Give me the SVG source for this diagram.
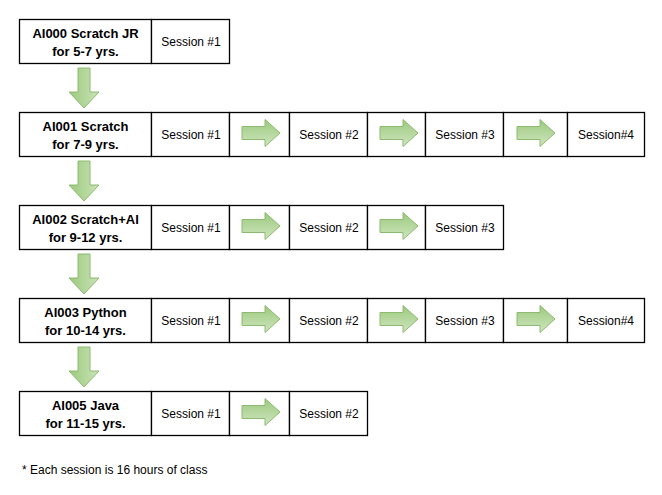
<svg xmlns="http://www.w3.org/2000/svg" width="662" height="495" viewBox="0 0 662 495">
<defs>
<linearGradient id="gv" x1="0" y1="0" x2="0" y2="1">
<stop offset="0" stop-color="#9cc97e"/>
<stop offset="1" stop-color="#cfe6bf"/>
</linearGradient>
<linearGradient id="gh" x1="0" y1="0" x2="1" y2="0">
<stop offset="0" stop-color="#9cc97e"/>
<stop offset="1" stop-color="#c9e3b7"/>
</linearGradient>
<path id="ra" d="M0,-6.5 H23 V-13.5 L38,0 L23,13.5 V6.5 H0 Z"/>
<path id="da" d="M-6,0 H6 V24 H15 L0,40 L-15,24 H-6 Z"/>
</defs>
<style>
.c{fill:#fff;stroke:#000;stroke-width:1.3}
.t{font-family:"Liberation Sans",Arial,sans-serif;font-size:12px;fill:#000;text-anchor:middle}
.b{font-family:"Liberation Sans",Arial,sans-serif;font-size:13px;font-weight:bold;fill:#000;text-anchor:middle}
.ar{fill:url(#gv);stroke:#8cba6f;stroke-width:1}
.dr{fill:url(#gh);stroke:#8cba6f;stroke-width:1}
</style>
<rect width="662" height="495" fill="#fff"/>

<g id="row1">
<rect class="c" x="19.5" y="19.5" width="132" height="44"/>
<rect class="c" x="151.5" y="19.5" width="78" height="44"/>
<text class="b" x="85.5" y="38">AI000 Scratch JR</text>
<text class="b" x="85.5" y="56">for 5-7 yrs.</text>
<text class="t" x="191" y="46">Session #1</text>
</g>

<g id="row2">
<rect class="c" x="19.5" y="112.5" width="132" height="44"/>
<rect class="c" x="151.5" y="112.5" width="78" height="44"/>
<rect class="c" x="229.5" y="112.5" width="60" height="44"/>
<rect class="c" x="289.5" y="112.5" width="78" height="44"/>
<rect class="c" x="367.5" y="112.5" width="58" height="44"/>
<rect class="c" x="425.5" y="112.5" width="78" height="44"/>
<rect class="c" x="503.5" y="112.5" width="64" height="44"/>
<rect class="c" x="567.5" y="112.5" width="77" height="44"/>
<text class="b" x="85.5" y="131">AI001 Scratch</text>
<text class="b" x="85.5" y="149">for 7-9 yrs.</text>
<text class="t" x="191" y="139">Session #1</text>
<text class="t" x="329" y="139">Session #2</text>
<text class="t" x="465" y="139">Session #3</text>
<text class="t" x="606" y="139">Session#4</text>
</g>

<g id="row3">
<rect class="c" x="19.5" y="205.5" width="132" height="44"/>
<rect class="c" x="151.5" y="205.5" width="78" height="44"/>
<rect class="c" x="229.5" y="205.5" width="60" height="44"/>
<rect class="c" x="289.5" y="205.5" width="78" height="44"/>
<rect class="c" x="367.5" y="205.5" width="58" height="44"/>
<rect class="c" x="425.5" y="205.5" width="78" height="44"/>
<text class="b" x="85.5" y="224">AI002 Scratch+AI</text>
<text class="b" x="85.5" y="242">for 9-12 yrs.</text>
<text class="t" x="191" y="232">Session #1</text>
<text class="t" x="329" y="232">Session #2</text>
<text class="t" x="465" y="232">Session #3</text>
</g>

<g id="row4">
<rect class="c" x="19.5" y="298.5" width="132" height="44"/>
<rect class="c" x="151.5" y="298.5" width="78" height="44"/>
<rect class="c" x="229.5" y="298.5" width="60" height="44"/>
<rect class="c" x="289.5" y="298.5" width="78" height="44"/>
<rect class="c" x="367.5" y="298.5" width="58" height="44"/>
<rect class="c" x="425.5" y="298.5" width="78" height="44"/>
<rect class="c" x="503.5" y="298.5" width="64" height="44"/>
<rect class="c" x="567.5" y="298.5" width="77" height="44"/>
<text class="b" x="85.5" y="317">AI003 Python</text>
<text class="b" x="85.5" y="335">for 10-14 yrs.</text>
<text class="t" x="191" y="325">Session #1</text>
<text class="t" x="329" y="325">Session #2</text>
<text class="t" x="465" y="325">Session #3</text>
<text class="t" x="606" y="325">Session#4</text>
</g>

<g id="row5">
<rect class="c" x="19.5" y="391.5" width="132" height="44"/>
<rect class="c" x="151.5" y="391.5" width="78" height="44"/>
<rect class="c" x="229.5" y="391.5" width="60" height="44"/>
<rect class="c" x="289.5" y="391.5" width="78" height="44"/>
<text class="b" x="85.5" y="410">AI005 Java</text>
<text class="b" x="85.5" y="428">for 11-15 yrs.</text>
<text class="t" x="191" y="418">Session #1</text>
<text class="t" x="329" y="418">Session #2</text>
</g>

<g id="connectors">
<use href="#da" class="dr" x="84" y="68"/>
<use href="#da" class="dr" x="84" y="161"/>
<use href="#da" class="dr" x="84" y="254"/>
<use href="#da" class="dr" x="84" y="347"/>
<use href="#ra" class="ar" x="242" y="133"/>
<use href="#ra" class="ar" x="380" y="133"/>
<use href="#ra" class="ar" x="517" y="133"/>
<use href="#ra" class="ar" x="242" y="226"/>
<use href="#ra" class="ar" x="380" y="226"/>
<use href="#ra" class="ar" x="242" y="319"/>
<use href="#ra" class="ar" x="380" y="319"/>
<use href="#ra" class="ar" x="517" y="319"/>
<use href="#ra" class="ar" x="242" y="412"/>
</g>

<text x="22" y="474" style="font-family:'Liberation Sans',Arial,sans-serif;font-size:12px;fill:#000">* Each session is 16 hours of class</text>
</svg>
